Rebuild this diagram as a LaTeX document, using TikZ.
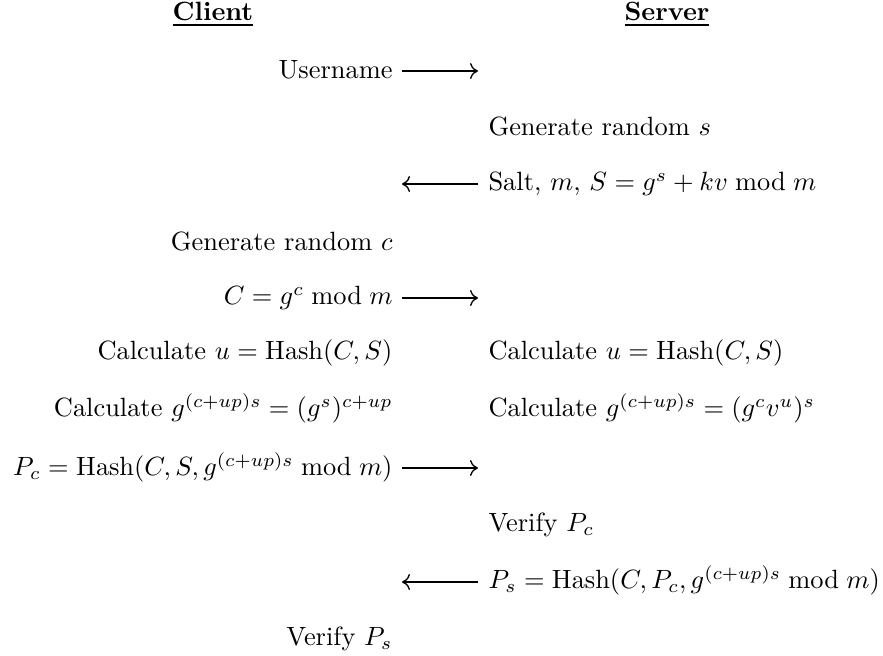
\documentclass[tikz,border=0pt]{standalone}
\usepackage{amsmath}
\usetikzlibrary{arrows.meta}
\begin{document}
\begin{tikzpicture}[x=0.3788pt,y=-0.3788pt,
  cl/.style={anchor=base east, inner sep=0pt},
  sv/.style={anchor=base west, inner sep=0pt},
  hd/.style={anchor=base, inner sep=0pt, font=\bfseries},
  msg/.style={-{Computer Modern Rightarrow[length=3pt,width=6pt]}, line width=0.5pt}]
\useasboundingbox (0,0) rectangle (883,656);
% headers
\node[hd] (client) at (213,21) {\underline{Client}};
\node[hd] (server) at (667,21) {\underline{Server}};
% client column
\node[cl] (user) at (393,79) {Username};
\node[cl] (genc) at (393,251) {Generate random $c$};
\node[cl] (cval) at (393,305) {$C = g^c \bmod m$};
\node[cl] (cu) at (393,360) {Calculate $u = \mathrm{Hash}(C, S)$};
\node[cl] (cg) at (393,417) {Calculate $g^{(c+up)s} = (g^s)^{c+up}$};
\node[cl] (pc) at (393,476) {$P_c = \mathrm{Hash}(C, S, g^{(c+up)s} \bmod m)$};
\node[cl] (vps) at (393,646) {Verify $P_s$};
% server column
\node[sv] (gens) at (488,136) {Generate random $s$};
\node[sv] (salt) at (488,191) {Salt, $m$, $S = g^s + kv \bmod m$};
\node[sv] (su) at (488,360) {Calculate $u = \mathrm{Hash}(C, S)$};
\node[sv] (sg) at (488,417) {Calculate $g^{(c+up)s} = (g^c v^u)^s$};
\node[sv] (vpc) at (488,532) {Verify $P_c$};
\node[sv] (ps) at (488,589) {$P_s = \mathrm{Hash}(C, P_c, g^{(c+up)s} \bmod m)$};
% message arrows
\coordinate (m1a) at (402,71);  \coordinate (m1b) at (478,71);
\coordinate (m2a) at (478,184); \coordinate (m2b) at (402,184);
\coordinate (m3a) at (402,298); \coordinate (m3b) at (478,298);
\coordinate (m4a) at (402,468); \coordinate (m4b) at (478,468);
\coordinate (m5a) at (478,582); \coordinate (m5b) at (402,582);
\draw[msg] (m1a) -- (m1b);
\draw[msg] (m2a) -- (m2b);
\draw[msg] (m3a) -- (m3b);
\draw[msg] (m4a) -- (m4b);
\draw[msg] (m5a) -- (m5b);
\end{tikzpicture}
\end{document}
